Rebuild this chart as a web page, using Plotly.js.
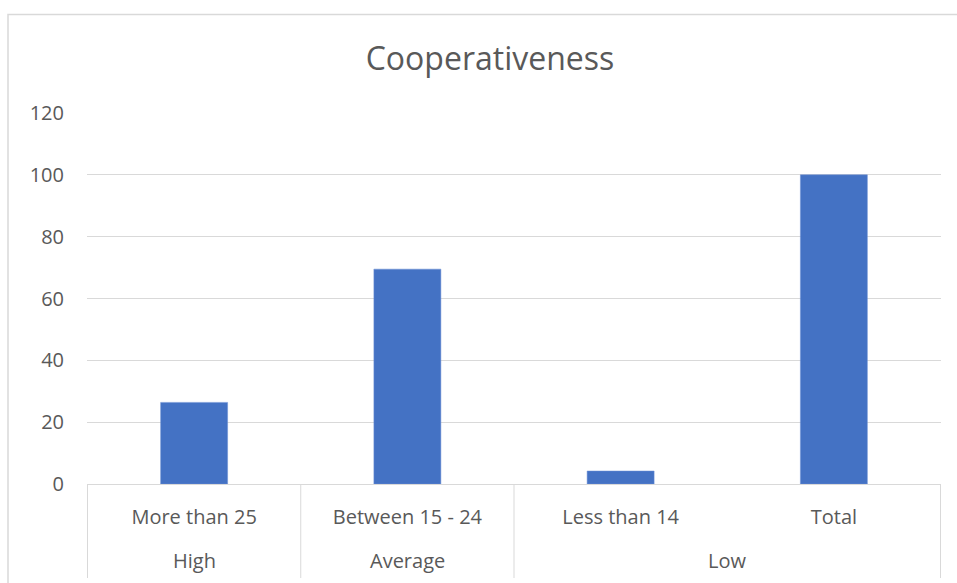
<!DOCTYPE html>
<html>
<head>
<meta charset="utf-8">
<script src="https://cdn.plot.ly/plotly-3.0.1.min.js"></script>
<style>html,body{margin:0;padding:0;background:#fff;}#chart{width:957px;height:583px;}</style>
</head>
<body>
<div id="chart"></div>
<script>
var groups = ["High", "Average", "Low", "Low"];
var categories = ["More than 25", "Between 15 - 24", "Less than 14", "Total"];
var values = [26.4, 69.5, 4.2, 100];
var yTicks = [0, 20, 40, 60, 80, 100, 120];

var trace = {
  type: 'bar',
  x: categories,
  y: values,
  marker: {color: '#4472C4', line: {color: '#6a8fd4', width: 0.5}},
  hoverinfo: 'y'
};

// group spans (index ranges) built from the groups array
var spans = [];
groups.forEach(function (g, i) {
  var last = spans[spans.length - 1];
  if (last && last.name === g) { last.end = i; } else { spans.push({name: g, start: i, end: i}); }
});

var lineColor = '#d9d9d9';
var shapes = [
  {type: 'rect', xref: 'paper', yref: 'paper', x0: -0.0925, x1: 1.1, y0: -0.3, y1: 1.2655,
   line: {color: lineColor, width: 1.5}, fillcolor: 'rgba(0,0,0,0)', layer: 'below'}
];
var annotations = [];
var bounds = [spans[0].start - 0.5];
spans.forEach(function (s) { bounds.push(s.end + 0.5); });
bounds.forEach(function (b) {
  shapes.push({type: 'line', xref: 'x', yref: 'paper', x0: b, x1: b, y0: 0, y1: -0.2534,
               line: {color: lineColor, width: 1}});
});
spans.forEach(function (s) {
  annotations.push({xref: 'x', yref: 'paper', x: (s.start + s.end) / 2, y: -0.2075,
                    text: s.name, showarrow: false, xanchor: 'center', yanchor: 'middle',
                    font: {size: 20, color: '#595959', family: 'Open Sans, sans-serif'}});
});

var layout = {
  width: 957, height: 583,
  margin: {l: 87, r: 16, t: 113, b: 99},
  paper_bgcolor: '#ffffff', plot_bgcolor: '#ffffff',
  font: {family: 'Open Sans, sans-serif', color: '#595959'},
  title: {text: 'Cooperativeness', font: {size: 32, color: '#595959', family: 'Open Sans, sans-serif'},
          x: 0.512, xanchor: 'center', y: 0.9, yanchor: 'middle'},
  bargap: 0.686,
  showlegend: false,
  xaxis: {
    type: 'category',
    tickfont: {size: 20, color: '#595959'},
    showline: true, linecolor: lineColor, linewidth: 1,
    ticks: '', ticklabelstandoff: 15,
    showgrid: false, zeroline: false
  },
  yaxis: {
    range: [0, 120], tickvals: yTicks, ticktext: yTicks.map(String),
    tickfont: {size: 20, color: '#595959'},
    showgrid: true, gridcolor: lineColor, gridwidth: 1,
    zeroline: false, showline: false, ticks: '', ticklabelstandoff: 22
  },
  shapes: shapes,
  annotations: annotations
};

Plotly.newPlot('chart', [trace], layout, {displayModeBar: false, staticPlot: true});
</script>
</body>
</html>
